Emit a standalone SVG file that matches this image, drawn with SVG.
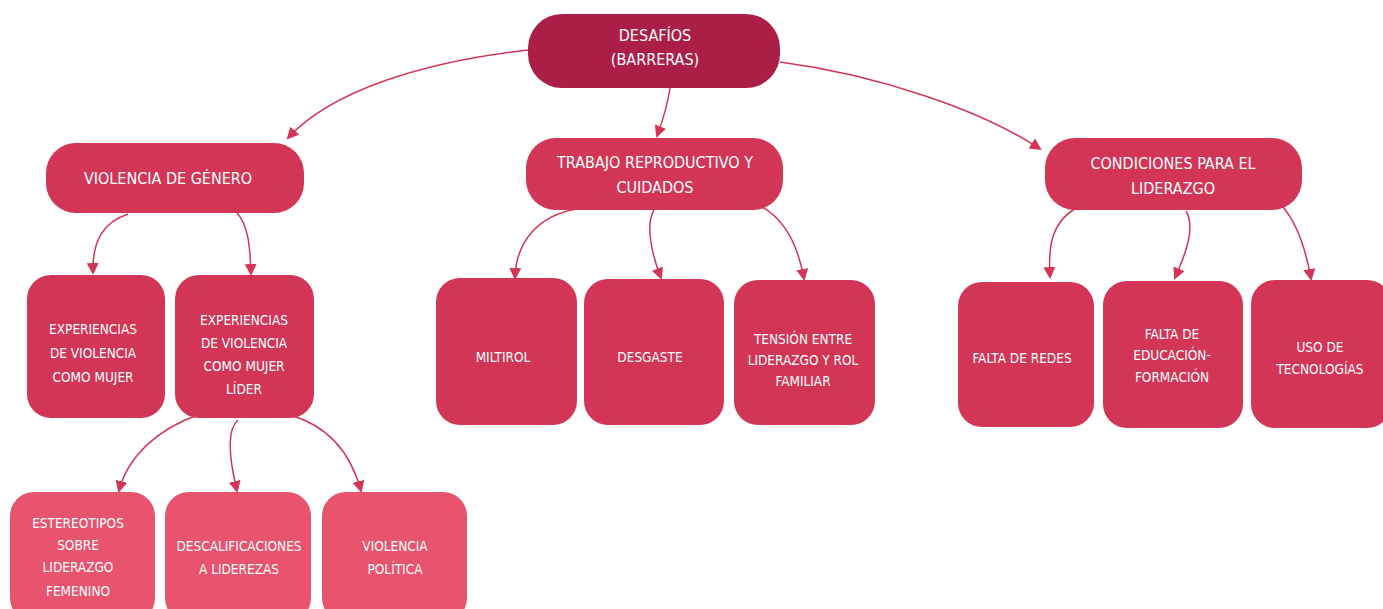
<svg xmlns="http://www.w3.org/2000/svg" width="1383" height="609" viewBox="0 0 1383 609">
<style>
.t{font-family:"DejaVu Sans Condensed","Liberation Sans Narrow",sans-serif;fill:#fff;text-anchor:middle}
.l0{font-size:16px}
.l1{font-size:16px}
.l2{font-size:13.5px}
.root{fill:#AB1F47}
.n1{fill:#D23556}
.n3{fill:#E8536E}
.c{fill:none;stroke:#D23556;stroke-width:1.5}
</style>
<defs>
<marker id="ah" viewBox="0 0 12 12" refX="10" refY="6" markerWidth="12" markerHeight="12" markerUnits="userSpaceOnUse" orient="auto">
<path d="M0,0 L12,6 L0,12 Z" fill="#D23556"/>
</marker>
</defs>
<rect width="1383" height="609" fill="#fff"/>
<g id="connectors">
<path class="c" marker-end="url(#ah)" d="M528,50 C420,62 330,92 288,138"/>
<path class="c" marker-end="url(#ah)" d="M670,88 C667,108 663,120 657,136"/>
<path class="c" marker-end="url(#ah)" d="M780,62 C880,75 985,112 1040,149"/>
<path class="c" marker-end="url(#ah)" d="M128,214 C104,222 92,240 93,273"/>
<path class="c" marker-end="url(#ah)" d="M237,213 C248,225 250,245 251,274"/>
<path class="c" marker-end="url(#ah)" d="M577,209 C540,215 516,240 515,278"/>
<path class="c" marker-end="url(#ah)" d="M654,210 C645,225 652,255 661,278"/>
<path class="c" marker-end="url(#ah)" d="M762,207 C785,220 798,245 804,279"/>
<path class="c" marker-end="url(#ah)" d="M1076,208 C1052,222 1048,245 1050,277"/>
<path class="c" marker-end="url(#ah)" d="M1186,211 C1196,228 1185,255 1175,278"/>
<path class="c" marker-end="url(#ah)" d="M1283,207 C1298,225 1306,250 1311,279"/>
<path class="c" marker-end="url(#ah)" d="M198,415 C160,428 128,455 119,491"/>
<path class="c" marker-end="url(#ah)" d="M238,420 C226,430 230,462 237,491"/>
<path class="c" marker-end="url(#ah)" d="M290,415 C325,425 350,450 361,491"/>
</g>
<g id="n-root"><rect class="root" x="528" y="14" width="252" height="74" rx="34"/>
<text class="t l0" x="655" y="41">DESAFÍOS</text><text class="t l0" x="655" y="65">(BARRERAS)</text></g>
<g id="n-vdg"><rect class="n1" x="46" y="143" width="258" height="70" rx="30"/>
<text class="t l1" x="168" y="184">VIOLENCIA DE GÉNERO</text></g>
<g id="n-trabajo"><rect class="n1" x="526" y="138" width="257" height="72" rx="30"/>
<text class="t l1" x="655" y="168">TRABAJO REPRODUCTIVO Y</text><text class="t l1" x="655" y="193">CUIDADOS</text></g>
<g id="n-cond"><rect class="n1" x="1045" y="138" width="257" height="72" rx="30"/>
<text class="t l1" x="1173" y="169">CONDICIONES PARA EL</text><text class="t l1" x="1173" y="194">LIDERAZGO</text></g>
<g id="n-expm"><rect class="n1" x="27" y="275" width="138" height="143" rx="24"/>
<text class="t l2" x="93" y="334">EXPERIENCIAS</text><text class="t l2" x="93" y="358">DE VIOLENCIA</text><text class="t l2" x="93" y="382">COMO MUJER</text></g>
<g id="n-expl"><rect class="n1" x="175" y="275" width="139" height="143" rx="24"/>
<text class="t l2" x="244" y="325">EXPERIENCIAS</text><text class="t l2" x="244" y="348">DE VIOLENCIA</text><text class="t l2" x="244" y="371">COMO MUJER</text><text class="t l2" x="244" y="394">LÍDER</text></g>
<g id="n-multirol"><rect class="n1" x="436" y="278" width="141" height="147" rx="24"/>
<text class="t l2" x="503" y="362">MILTIROL</text></g>
<g id="n-desgaste"><rect class="n1" x="584" y="279" width="140" height="146" rx="24"/>
<text class="t l2" x="650" y="362">DESGASTE</text></g>
<g id="n-tension"><rect class="n1" x="734" y="280" width="141" height="145" rx="24"/>
<text class="t l2" x="803" y="344">TENSIÓN ENTRE</text><text class="t l2" x="803" y="365">LIDERAZGO Y ROL</text><text class="t l2" x="803" y="386">FAMILIAR</text></g>
<g id="n-redes"><rect class="n1" x="958" y="282" width="136" height="145" rx="24"/>
<text class="t l2" x="1022" y="363">FALTA DE REDES</text></g>
<g id="n-educ"><rect class="n1" x="1103" y="281" width="140" height="147" rx="24"/>
<text class="t l2" x="1172" y="339">FALTA DE</text><text class="t l2" x="1172" y="360">EDUCACIÓN-</text><text class="t l2" x="1172" y="382">FORMACIÓN</text></g>
<g id="n-uso"><rect class="n1" x="1251" y="280" width="140" height="148" rx="24"/>
<text class="t l2" x="1320" y="352">USO DE</text><text class="t l2" x="1320" y="374">TECNOLOGÍAS</text></g>
<g id="n-estereo"><rect class="n3" x="10" y="492" width="145" height="130" rx="24"/>
<text class="t l2" x="78" y="528">ESTEREOTIPOS</text><text class="t l2" x="78" y="550">SOBRE</text><text class="t l2" x="78" y="572">LIDERAZGO</text><text class="t l2" x="78" y="596">FEMENINO</text></g>
<g id="n-descal"><rect class="n3" x="165" y="492" width="146" height="130" rx="24"/>
<text class="t l2" x="239" y="551">DESCALIFICACIONES</text><text class="t l2" x="239" y="574">A LIDEREZAS</text></g>
<g id="n-vpol"><rect class="n3" x="322" y="492" width="145" height="130" rx="24"/>
<text class="t l2" x="395" y="551">VIOLENCIA</text><text class="t l2" x="395" y="574">POLÍTICA</text></g>
</svg>
